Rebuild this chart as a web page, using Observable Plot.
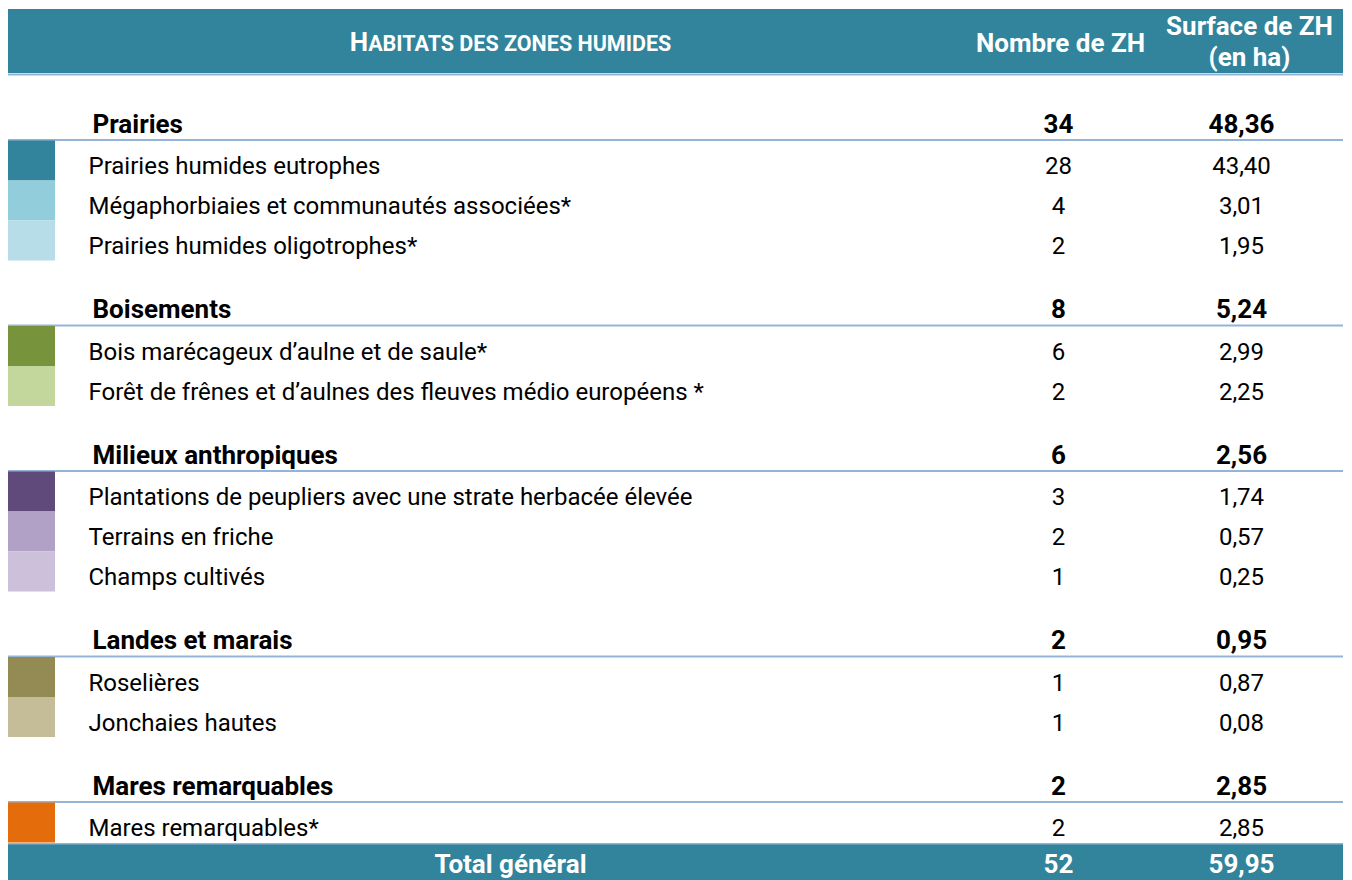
<!DOCTYPE html>
<html>
<head>
<meta charset="utf-8">
<script src="https://cdn.jsdelivr.net/npm/d3@7"></script>
<script src="https://cdn.jsdelivr.net/npm/@observablehq/plot@0.6"></script>
<style>
html, body { margin: 0; padding: 0; background: #ffffff; }
#chart svg { display: block; }
</style>
</head>
<body>
<div id="chart"></div>
<script>
// ---------------- DATA ----------------
const groups = ["Prairies", "Boisements", "Milieux anthropiques", "Landes et marais", "Mares remarquables"];
const groupCounts = [34, 8, 6, 2, 2];
const groupAreas = [48.36, 5.24, 2.56, 0.95, 2.85];

const habitats = [
  "Prairies humides eutrophes",
  "Mégaphorbiaies et communautés associées*",
  "Prairies humides oligotrophes*",
  "Bois marécageux d’aulne et de saule*",
  "Forêt de frênes et d’aulnes des fleuves médio européens *",
  "Plantations de peupliers avec une strate herbacée élevée",
  "Terrains en friche",
  "Champs cultivés",
  "Roselières",
  "Jonchaies hautes",
  "Mares remarquables*"
];
const habitatGroups = [
  "Prairies", "Prairies", "Prairies",
  "Boisements", "Boisements",
  "Milieux anthropiques", "Milieux anthropiques", "Milieux anthropiques",
  "Landes et marais", "Landes et marais",
  "Mares remarquables"
];
const habitatCounts = [28, 4, 2, 6, 2, 3, 2, 1, 1, 1, 2];
const habitatAreas = [43.40, 3.01, 1.95, 2.99, 2.25, 1.74, 0.57, 0.25, 0.87, 0.08, 2.85];

const headerFirst = "Habitats des zones humides";
const headerCount = "Nombre de ZH";
const headerArea = "Surface de ZH\n(en ha)";
const totalLabel = "Total général";
const totalCount = 52;
const totalArea = 59.95;

// ---------------- STYLE / LAYOUT ----------------
const palette = ["#31849b", "#92cddc", "#b7dee8", "#77933c", "#c3d69b", "#604a7b", "#b2a1c7", "#ccc0da", "#948a54", "#c4bd97", "#e46c0a"];
const TEAL = "#31849b";
const RULE = "#95b3d7";
const FONT = "Roboto";

const W = 1352, H = 880;
const U = 40;                 // pixels per row unit
const u = (p) => p / U;       // pixels -> row units

const TABLE_LEFT = 8, TABLE_RIGHT = 1343, SWATCH_RIGHT = 55;
const LABEL_X = 88, GROUP_LABEL_X = 92, FIRST_COL_CENTER = 510;
const COUNT_X = 1058, AREA_X = 1241, HEAD_COUNT_X = 1060, HEAD_AREA_X = 1249;

const HEADER_TOP = u(9), HEADER_BOTTOM = u(73), HEADER_RULE = u(74);
const BODY_TOP = u(75);
const GROUP_BLOCK = u(64.5);
const ROW = 1;
const ITEM_BASE = u(33);
const GROUP_BASE = u(-7.5);

const ITEM_SIZE = 24, GROUP_SIZE = 26, HEAD_SIZE = 26, TOTAL_SIZE = 26;

const frFmt = (v) => v.toFixed(2).replace(".", ",");

// ---------------- BUILD ROWS ----------------
const groupRows = [];
const itemRows = [];
let cursor = BODY_TOP;
groups.forEach((g, gi) => {
  const lineY = cursor + GROUP_BLOCK;
  groupRows.push({label: g, count: groupCounts[gi], area: groupAreas[gi], lineY, base: lineY + GROUP_BASE});
  let top = lineY + u(1);
  habitats.forEach((h, i) => {
    if (habitatGroups[i] !== g) return;
    itemRows.push({label: h, count: habitatCounts[i], area: habitatAreas[i], top, bottom: top + ROW, base: top + ITEM_BASE});
    top += ROW;
  });
  cursor = top;
});
const totalRule = cursor + u(1);
const totalTop = cursor + u(2);
const totalRow = [{label: totalLabel, count: totalCount, area: totalArea, top: totalTop, bottom: u(H), base: u(872)}];

// measure the small-caps header parts
const CAP_SIZE = 26, SMALL_SIZE = 21.5;
const ctx = document.createElement("canvas").getContext("2d");
ctx.font = `bold ${CAP_SIZE}px ${FONT}`;
const firstLetter = headerFirst[0].toUpperCase();
const restText = headerFirst.slice(1).toUpperCase();
const wCap = ctx.measureText(firstLetter).width;
ctx.font = `bold ${SMALL_SIZE}px ${FONT}`;
const wRest = ctx.measureText(restText).width;
const headStart = FIRST_COL_CENTER - (wCap + wRest) / 2;

const headerBand = [{top: HEADER_TOP, bottom: HEADER_BOTTOM}];

const chart = Plot.plot({
  width: W,
  height: H,
  margin: 0,
  x: {domain: [0, W], range: [0, W], axis: null},
  y: {domain: [0, u(H)], range: [0, H], axis: null},
  color: {type: "ordinal", domain: habitats, range: palette},
  style: {fontFamily: FONT, background: "#ffffff", overflow: "hidden"},
  marks: [
    // header band
    Plot.rect(headerBand, {x1: TABLE_LEFT, x2: TABLE_RIGHT, y1: "top", y2: "bottom", fill: TEAL}),
    Plot.ruleY([HEADER_RULE], {x1: TABLE_LEFT, x2: TABLE_RIGHT, stroke: RULE, strokeWidth: 2}),
    Plot.text([firstLetter], {x: headStart, y: u(50.5), text: (d) => d, textAnchor: "start", lineAnchor: "bottom", fontSize: CAP_SIZE, fontWeight: "bold", fill: "white"}),
    Plot.text([restText], {x: headStart + wCap, y: u(50.5), text: (d) => d, textAnchor: "start", lineAnchor: "bottom", fontSize: SMALL_SIZE, fontWeight: "bold", fill: "white"}),
    Plot.text([headerCount], {x: HEAD_COUNT_X, y: u(51), text: (d) => d, textAnchor: "middle", lineAnchor: "bottom", fontSize: HEAD_SIZE, fontWeight: "bold", fill: "white"}),
    Plot.text([headerArea], {x: HEAD_AREA_X, y: u(65), text: (d) => d, textAnchor: "middle", lineAnchor: "bottom", lineHeight: 1.18, fontSize: HEAD_SIZE, fontWeight: "bold", fill: "white"}),

    // group rules
    Plot.ruleY(groupRows, {y: "lineY", x1: TABLE_LEFT, x2: TABLE_RIGHT, stroke: RULE, strokeWidth: 2}),
    // swatches
    Plot.rect(itemRows, {x1: TABLE_LEFT, x2: SWATCH_RIGHT, y1: "top", y2: "bottom", fill: "label"}),

    // group texts
    Plot.text(groupRows, {x: GROUP_LABEL_X, y: "base", text: "label", textAnchor: "start", lineAnchor: "bottom", fontSize: GROUP_SIZE, fontWeight: "bold", fill: "black"}),
    Plot.text(groupRows, {x: COUNT_X, y: "base", text: (d) => String(d.count), textAnchor: "middle", lineAnchor: "bottom", fontSize: GROUP_SIZE, fontWeight: "bold", fill: "black"}),
    Plot.text(groupRows, {x: AREA_X, y: "base", text: (d) => frFmt(d.area), textAnchor: "middle", lineAnchor: "bottom", fontSize: GROUP_SIZE, fontWeight: "bold", fill: "black"}),

    // item texts
    Plot.text(itemRows, {x: LABEL_X, y: "base", text: "label", textAnchor: "start", lineAnchor: "bottom", fontSize: ITEM_SIZE, fill: "black"}),
    Plot.text(itemRows, {x: COUNT_X, y: "base", text: (d) => String(d.count), textAnchor: "middle", lineAnchor: "bottom", fontSize: ITEM_SIZE, fill: "black"}),
    Plot.text(itemRows, {x: AREA_X, y: "base", text: (d) => frFmt(d.area), textAnchor: "middle", lineAnchor: "bottom", fontSize: ITEM_SIZE, fill: "black"}),

    // total
    Plot.ruleY([totalRule], {x1: TABLE_LEFT, x2: TABLE_RIGHT, stroke: RULE, strokeWidth: 2}),
    Plot.rect(totalRow, {x1: TABLE_LEFT, x2: TABLE_RIGHT, y1: "top", y2: "bottom", fill: TEAL}),
    Plot.text(totalRow, {x: FIRST_COL_CENTER, y: "base", text: "label", textAnchor: "middle", lineAnchor: "bottom", fontSize: TOTAL_SIZE, fontWeight: "bold", fill: "white"}),
    Plot.text(totalRow, {x: COUNT_X, y: "base", text: (d) => String(d.count), textAnchor: "middle", lineAnchor: "bottom", fontSize: TOTAL_SIZE, fontWeight: "bold", fill: "white"}),
    Plot.text(totalRow, {x: AREA_X, y: "base", text: (d) => frFmt(d.area), textAnchor: "middle", lineAnchor: "bottom", fontSize: TOTAL_SIZE, fontWeight: "bold", fill: "white"})
  ]
});

document.getElementById("chart").appendChild(chart);
</script>
</body>
</html>
